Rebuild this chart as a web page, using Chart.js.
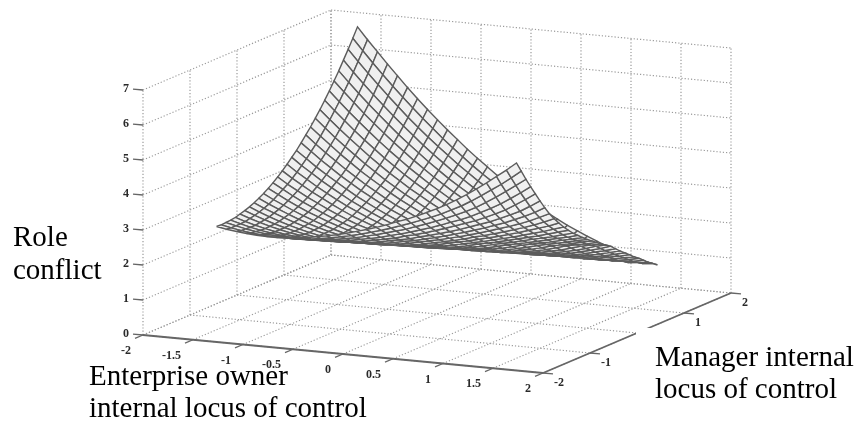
<!DOCTYPE html>
<html><head><meta charset="utf-8">
<style>html,body{margin:0;padding:0;background:#fff}canvas{display:block}</style>
<script src="https://cdn.jsdelivr.net/npm/chart.js@4"></script>
</head><body><canvas id="c" width="857" height="424"></canvas>
<script>
const ownerTicks=[-2,-1.5,-1,-0.5,0,0.5,1,1.5,2];
const managerTicks=[-2,-1,0,1,2];
const conflictTicks=[0,1,2,3,4,5,6,7];
const ownerGrid=[-1.5,-1.4,-1.3,-1.2,-1.1,-1,-0.9,-0.8,-0.7,-0.6,-0.5,-0.4,-0.3,-0.2,-0.1,0,0.1,0.2,0.3,0.4,0.5,0.6,0.7,0.8,0.9,1,1.1,1.2,1.3,1.4,1.5];
const managerGrid=ownerGrid.slice();
// one row per manager value, one column per owner value
const conflictRows=[
[2.95,2.90,2.86,2.83,2.81,2.80,2.80,2.82,2.84,2.88,2.93,2.98,3.04,3.11,3.19,3.27,3.36,3.46,3.57,3.67,3.79,3.92,4.05,4.20,4.36,4.54,4.73,4.93,5.14,5.35,5.58],
[2.94,2.88,2.83,2.79,2.76,2.74,2.74,2.74,2.76,2.78,2.82,2.87,2.93,2.99,3.06,3.14,3.22,3.31,3.41,3.51,3.62,3.73,3.85,3.99,4.13,4.30,4.48,4.67,4.86,5.07,5.29],
[2.95,2.88,2.82,2.77,2.73,2.70,2.68,2.67,2.68,2.70,2.73,2.77,2.82,2.87,2.94,3.01,3.09,3.17,3.25,3.35,3.45,3.56,3.67,3.79,3.92,4.06,4.23,4.41,4.60,4.80,5.00],
[2.96,2.88,2.81,2.75,2.70,2.66,2.63,2.62,2.61,2.62,2.64,2.67,2.71,2.77,2.82,2.88,2.96,3.03,3.11,3.20,3.29,3.39,3.50,3.60,3.72,3.86,4.00,4.16,4.34,4.53,4.73],
[2.98,2.89,2.81,2.74,2.68,2.63,2.60,2.57,2.56,2.55,2.56,2.59,2.62,2.66,2.72,2.77,2.83,2.91,2.98,3.06,3.15,3.24,3.34,3.44,3.54,3.66,3.79,3.93,4.10,4.28,4.47],
[3.02,2.92,2.83,2.75,2.68,2.62,2.57,2.53,2.51,2.50,2.49,2.51,2.53,2.56,2.61,2.67,2.72,2.78,2.86,2.93,3.01,3.09,3.18,3.28,3.38,3.48,3.60,3.73,3.86,4.03,4.21],
[3.06,2.95,2.85,2.76,2.68,2.61,2.55,2.50,2.47,2.45,2.44,2.44,2.45,2.48,2.51,2.56,2.62,2.67,2.74,2.81,2.88,2.96,3.04,3.13,3.22,3.32,3.42,3.54,3.66,3.80,3.96],
[3.11,2.99,2.88,2.78,2.69,2.61,2.54,2.48,2.44,2.40,2.38,2.38,2.38,2.39,2.42,2.46,2.51,2.57,2.63,2.69,2.76,2.83,2.91,2.99,3.08,3.17,3.26,3.36,3.47,3.60,3.73],
[3.17,3.04,2.93,2.82,2.72,2.63,2.55,2.48,2.42,2.37,2.34,2.32,2.32,2.32,2.34,2.37,2.41,2.46,2.52,2.58,2.64,2.71,2.79,2.86,2.94,3.02,3.11,3.20,3.30,3.41,3.53],
[3.24,3.10,2.98,2.86,2.75,2.65,2.56,2.48,2.41,2.35,2.31,2.28,2.26,2.26,2.27,2.29,2.32,2.36,2.41,2.48,2.54,2.60,2.67,2.74,2.81,2.89,2.97,3.06,3.15,3.24,3.35],
[3.32,3.17,3.04,2.91,2.79,2.68,2.58,2.49,2.41,2.34,2.28,2.24,2.21,2.20,2.20,2.21,2.23,2.27,2.31,2.37,2.43,2.49,2.55,2.62,2.69,2.76,2.84,2.92,3.00,3.09,3.18],
[3.41,3.26,3.11,2.97,2.84,2.73,2.62,2.52,2.43,2.35,2.28,2.22,2.18,2.15,2.14,2.14,2.15,2.18,2.22,2.26,2.32,2.39,2.45,2.51,2.58,2.65,2.72,2.79,2.87,2.95,3.03],
[3.51,3.35,3.19,3.04,2.91,2.78,2.66,2.55,2.45,2.36,2.28,2.21,2.15,2.11,2.09,2.08,2.09,2.10,2.13,2.17,2.22,2.28,2.35,2.41,2.47,2.54,2.61,2.67,2.74,2.82,2.89],
[3.62,3.44,3.28,3.12,2.98,2.84,2.71,2.59,2.48,2.39,2.29,2.21,2.14,2.08,2.05,2.03,2.02,2.03,2.05,2.08,2.12,2.17,2.24,2.31,2.37,2.43,2.49,2.56,2.63,2.69,2.77],
[3.74,3.55,3.38,3.21,3.06,2.91,2.77,2.64,2.53,2.42,2.32,2.23,2.15,2.08,2.02,1.99,1.97,1.97,1.98,2.00,2.03,2.08,2.13,2.20,2.27,2.33,2.39,2.45,2.52,2.58,2.65],
[3.87,3.67,3.49,3.31,3.15,2.99,2.84,2.71,2.58,2.46,2.35,2.25,2.16,2.08,2.01,1.95,1.92,1.91,1.91,1.92,1.94,1.98,2.03,2.09,2.15,2.23,2.29,2.35,2.41,2.48,2.54],
[4.01,3.80,3.61,3.42,3.25,3.08,2.92,2.78,2.64,2.51,2.39,2.28,2.19,2.09,2.02,1.94,1.88,1.86,1.84,1.85,1.87,1.89,1.93,1.99,2.04,2.11,2.19,2.25,2.31,2.38,2.44],
[4.15,3.94,3.73,3.54,3.36,3.18,3.01,2.86,2.71,2.57,2.44,2.33,2.22,2.12,2.03,1.95,1.88,1.82,1.80,1.78,1.79,1.82,1.84,1.89,1.94,2.00,2.08,2.16,2.22,2.27,2.34],
[4.31,4.09,3.87,3.67,3.47,3.29,3.11,2.95,2.79,2.64,2.51,2.38,2.26,2.15,2.05,1.96,1.88,1.81,1.75,1.73,1.72,1.74,1.76,1.80,1.84,1.90,1.96,2.04,2.12,2.18,2.24],
[4.48,4.24,4.02,3.81,3.60,3.41,3.22,3.05,2.88,2.72,2.58,2.44,2.31,2.19,2.08,1.99,1.89,1.82,1.74,1.68,1.67,1.67,1.68,1.71,1.75,1.80,1.86,1.92,2.00,2.09,2.15],
[4.65,4.41,4.18,3.95,3.74,3.53,3.34,3.16,2.98,2.81,2.66,2.51,2.37,2.24,2.13,2.02,1.92,1.83,1.75,1.68,1.62,1.61,1.60,1.63,1.66,1.70,1.75,1.82,1.89,1.97,2.06],
[4.84,4.59,4.34,4.11,3.89,3.67,3.47,3.27,3.09,2.91,2.75,2.59,2.44,2.31,2.18,2.06,1.95,1.85,1.76,1.68,1.61,1.55,1.54,1.55,1.57,1.61,1.65,1.71,1.78,1.85,1.93],
[5.03,4.77,4.52,4.28,4.05,3.82,3.61,3.40,3.21,3.02,2.85,2.68,2.52,2.38,2.24,2.11,1.99,1.88,1.79,1.70,1.62,1.54,1.48,1.48,1.49,1.52,1.56,1.61,1.67,1.74,1.81],
[5.24,4.97,4.71,4.45,4.21,3.98,3.75,3.54,3.33,3.14,2.96,2.78,2.61,2.46,2.31,2.17,2.04,1.93,1.82,1.72,1.63,1.55,1.48,1.42,1.42,1.43,1.47,1.51,1.56,1.63,1.70],
[5.45,5.17,4.90,4.64,4.39,4.14,3.91,3.69,3.47,3.27,3.07,2.89,2.71,2.55,2.39,2.24,2.11,1.98,1.86,1.75,1.65,1.56,1.48,1.41,1.35,1.36,1.37,1.41,1.47,1.52,1.59],
[5.68,5.39,5.11,4.83,4.57,4.32,4.08,3.85,3.62,3.41,3.20,3.01,2.82,2.65,2.48,2.32,2.18,2.04,1.91,1.79,1.68,1.59,1.50,1.42,1.35,1.28,1.29,1.31,1.36,1.42,1.47],
[5.91,5.61,5.32,5.04,4.77,4.51,4.25,4.01,3.78,3.55,3.34,3.13,2.94,2.76,2.58,2.41,2.26,2.11,1.97,1.85,1.73,1.62,1.52,1.43,1.35,1.28,1.22,1.23,1.26,1.31,1.37],
[6.16,5.84,5.54,5.25,4.97,4.70,4.44,4.19,3.94,3.71,3.49,3.27,3.07,2.87,2.69,2.51,2.35,2.19,2.04,1.91,1.78,1.66,1.55,1.45,1.36,1.28,1.21,1.15,1.17,1.20,1.26],
[6.41,6.09,5.78,5.48,5.19,4.91,4.63,4.37,4.12,3.88,3.65,3.42,3.21,3.00,2.81,2.62,2.45,2.28,2.12,1.98,1.84,1.71,1.59,1.48,1.39,1.30,1.22,1.15,1.08,1.11,1.14],
[6.67,6.34,6.02,5.71,5.41,5.12,4.84,4.57,4.31,4.05,3.81,3.58,3.35,3.14,2.94,2.74,2.56,2.38,2.21,2.06,1.91,1.77,1.65,1.53,1.42,1.32,1.23,1.15,1.08,1.02,1.05],
[6.94,6.60,6.28,5.96,5.65,5.34,5.05,4.77,4.50,4.24,3.99,3.74,3.51,3.29,3.07,2.87,2.67,2.49,2.31,2.15,1.99,1.84,1.71,1.58,1.46,1.35,1.25,1.16,1.08,1.01,0.95]
];

// fixed 3-D view: value triple -> plane coordinates on the chart's scales
function view(x,y,z){
  return {x:143+100*(x+2)+47*(y+2), y:335+9.5*(x+2)-20*(y+2)-35*z};
}
const GRID='#9a9a9a', AXIS='#666666';
const layers=[];
function gridLine(a,b){layers.push({data:[view(...a),view(...b)],showLine:true,pointRadius:0,borderColor:GRID,borderWidth:1.2,borderDash:[1.2,2],fill:false});}
function axisLine(a,b,w){layers.push({data:[view(...a),view(...b)],showLine:true,pointRadius:0,borderColor:AXIS,borderWidth:w,fill:false});}
const zTop=conflictTicks[conflictTicks.length-1];
for(const m of managerTicks){gridLine([-2,m,0],[-2,m,zTop]);gridLine([-2,m,0],[2,m,0]);}
for(const o of ownerTicks){gridLine([o,2,0],[o,2,zTop]);gridLine([o,-2,0],[o,2,0]);}
for(const c of conflictTicks){gridLine([-2,-2,c],[-2,2,c]);gridLine([-2,2,c],[2,2,c]);}
axisLine([-2,-2,0],[2,-2,0],1.8);
axisLine([2,-2,0],[2,2,0],1.8);
for(const o of ownerTicks)axisLine([o,-2,0],[o,-2.17,0],1.3);
for(const m of managerTicks)axisLine([2,m,0],[2.1,m,0],1.3);
for(const c of conflictTicks)axisLine([-2,-2,c],[-2.1,-2,c],1.3);
// surface cells, far to near
for(let j=managerGrid.length-2;j>=0;j--){
  for(let i=0;i<ownerGrid.length-1;i++){
    const p=[[i,j],[i+1,j],[i+1,j+1],[i,j+1],[i,j]].map(([a,b])=>view(ownerGrid[a],managerGrid[b],conflictRows[b][a]));
    layers.push({data:p,showLine:true,tension:0,pointRadius:0,borderColor:'#5c5c5c',borderWidth:1.4,backgroundColor:'#f0f0f0',fill:'shape'});
  }
}
const datasets=layers.reverse(); // first dataset is painted last

const labelsPlugin={id:'labels',afterDatasetsDraw(chart){
  const ctx=chart.ctx,sx=chart.scales.x,sy=chart.scales.y;
  const put=(p)=>[sx.getPixelForValue(p.x),sy.getPixelForValue(p.y)];
  ctx.save();
  ctx.fillStyle='#2a2a2a';ctx.font='bold 12px "Liberation Serif"';ctx.textBaseline='middle';
  ctx.textAlign='right';
  for(const o of ownerTicks){const [a,b]=put(view(o,-2,0));ctx.fillText(String(o),a-12,b+16);}
  for(const c of conflictTicks){const [a,b]=put(view(-2,-2,c));ctx.fillText(String(c),a-14,b-1);}
  ctx.textAlign='left';
  for(const m of managerTicks){const [a,b]=put(view(2,m,0));ctx.fillText(String(m),a+11,b+10);}
  // the manager caption sits on an opaque box that hides the axis behind it
  ctx.fillStyle='#fff';ctx.fillRect(636,328,221,96);
  ctx.fillStyle='#000';ctx.font='29px "Liberation Serif"';ctx.textAlign='left';ctx.textBaseline='alphabetic';
  const caps=[['Role',13,246],['conflict',13,279],['Enterprise owner',89,385],['internal locus of control',89,417],['Manager internal',655,366],['locus of control',655,398]];
  for(const [t,x,y] of caps)ctx.fillText(t,x,y);
  ctx.restore();
}};
new Chart(document.getElementById('c'),{type:'scatter',data:{datasets},plugins:[labelsPlugin],options:{
  responsive:false,animation:false,events:[],layout:{padding:0},
  plugins:{legend:{display:false},tooltip:{enabled:false},title:{display:false}},
  scales:{x:{type:'linear',min:0,max:857,display:false},y:{type:'linear',min:0,max:424,reverse:true,display:false}}
}});
</script></body></html>
